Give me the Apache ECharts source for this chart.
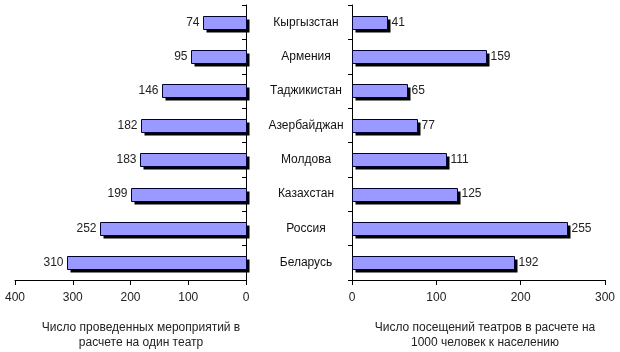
<!DOCTYPE html>
<html><head><meta charset="utf-8">
<script src="https://cdn.jsdelivr.net/npm/echarts@6/dist/echarts.min.js"></script>
<style>html,body{margin:0;padding:0;background:#fff}#c{width:620px;height:352px}</style>
</head><body><div id="c"></div>
<script>
var categories = ['Кыргызстан','Армения','Таджикистан','Азербайджан','Молдова','Казахстан','Россия','Беларусь'];
var eventsPerTheatre = [74,95,146,182,183,199,252,310];
var visitsPer1000 = [41,159,65,77,111,125,255,192];
var leftTicks = [0,100,200,300,400];
var rightTicks = [0,100,200,300];
var leftTitle = 'Число проведенных мероприятий в\nрасчете на один театр';
var rightTitle = 'Число посещений театров в расчете на\n1000 человек к населению';

var font = 'Arial, "Liberation Sans", sans-serif';
var axisLine = {lineStyle:{color:'#000', width:1}};

function makeRender(labelLeft){
  return function(params, api){
    var v = api.value(0), c = api.value(1);
    var p0 = api.coord([0, c]), p1 = api.coord([v, c]);
    var h = 13;
    var x = Math.min(p0[0], p1[0]), w = Math.abs(p1[0] - p0[0]);
    var y = Math.round(p0[1] - h / 2) + 0.5;
    x = Math.round(x) + 0.5; w = Math.round(w);
    return {type:'group', children:[
      {type:'rect', shape:{x:x + 3, y:y + 3, width:w, height:h}, style:{fill:'#000'}},
      {type:'rect', shape:{x:x, y:y, width:w, height:h}, style:{fill:'#9999FF', stroke:'#000033', lineWidth:1}},
      {type:'text', x: labelLeft ? x - 4 : x + w + 4, y: p0[1],
       style:{text:String(v), textAlign: labelLeft ? 'right' : 'left', textVerticalAlign:'middle', fill:'#222', font:'12px ' + font}}
    ]};
  };
}

var leftData = eventsPerTheatre.map(function(v, i){ return [v, i]; });
var rightData = visitsPer1000.map(function(v, i){ return [v, i]; });

var chart = echarts.init(document.getElementById('c'), null, {renderer:'canvas'});
chart.setOption({
  animation:false,
  backgroundColor:'#fff',
  textStyle:{fontFamily:font},
  grid:[
    {left:15, right:374, top:5, bottom:72},
    {left:352, right:15, top:5, bottom:72}
  ],
  xAxis:[
    {gridIndex:0, type:'value', min:leftTicks[0], max:leftTicks[leftTicks.length-1], interval:100, inverse:true,
     axisLine:Object.assign({show:true},axisLine), axisTick:{show:true,length:5,lineStyle:{color:'#000'}}, splitLine:{show:false},
     axisLabel:{color:'#222', fontSize:12, fontFamily:font, margin:12}},
    {gridIndex:1, type:'value', min:rightTicks[0], max:rightTicks[rightTicks.length-1], interval:100,
     axisLine:Object.assign({show:true},axisLine), axisTick:{show:true,length:5,lineStyle:{color:'#000'}}, splitLine:{show:false},
     axisLabel:{color:'#222', fontSize:12, fontFamily:font, margin:12}}
  ],
  yAxis:[
    {gridIndex:0, type:'category', data:categories, inverse:true, position:'right',
     axisLine:axisLine, axisTick:{show:true,length:4,inside:true,lineStyle:{color:'#000'}},
     axisLabel:{show:true, align:'center', margin:60, color:'#111', fontSize:12, fontFamily:font}},
    {gridIndex:1, type:'category', data:categories, inverse:true, position:'left',
     axisLine:axisLine, axisTick:{show:true,length:4,lineStyle:{color:'#000'}},
     axisLabel:{show:false}}
  ],
  series:[
    {type:'custom', xAxisIndex:0, yAxisIndex:0, data:leftData, encode:{x:0, y:1}, renderItem:makeRender(true), clip:false},
    {type:'custom', xAxisIndex:1, yAxisIndex:1, data:rightData, encode:{x:0, y:1}, renderItem:makeRender(false), clip:false}
  ],
  graphic:[
    {type:'text', x:141, y:320, style:{text:leftTitle, textAlign:'center', fill:'#222', font:'12px ' + font, lineHeight:15}},
    {type:'text', x:485, y:320, style:{text:rightTitle, textAlign:'center', fill:'#222', font:'12px ' + font, lineHeight:15}}
  ]
});
</script></body></html>
